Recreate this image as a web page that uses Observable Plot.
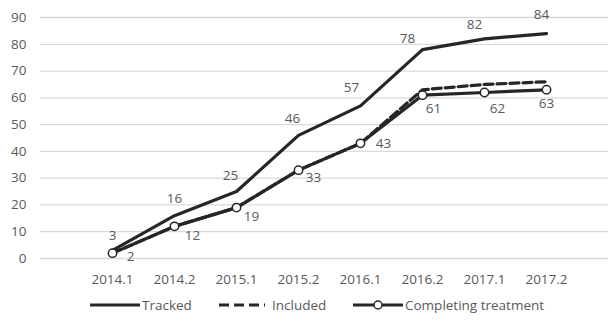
<!DOCTYPE html>
<html><head><meta charset="utf-8">
<script src="https://cdn.jsdelivr.net/npm/d3@7"></script>
<script src="https://cdn.jsdelivr.net/npm/@observablehq/plot@0.6"></script>
<style>
body{margin:0;background:#fff;font-family:"Open Sans",sans-serif;}
#wrap{width:608px;}
#legend{position:relative;width:608px;height:32px;font-size:13.5px;color:#595959;}
.item{position:absolute;top:2px;display:flex;align-items:center;height:22px;}
.item svg{display:block;margin-right:2px;}
</style></head><body><div id="wrap"><div id="chart"></div><div id="legend"></div></div>
<script>
const periods = ["2014.1","2014.2","2015.1","2015.2","2016.1","2016.2","2017.1","2017.2"];
const tracked = [3,16,25,46,57,78,82,84];
const included = [2,12,19,33,43,63,65,66];
const completing = [2,12,19,33,43,61,62,63];
const yTicks = [0,10,20,30,40,50,60,70,80,90];
const seriesNames = ["Tracked","Included","Completing treatment"];

const toRows = (vals, s) => vals.map((v,i) => ({period: periods[i], value: v, series: s, i}));
const tRows = toRows(tracked, seriesNames[0]);
const iRows = toRows(included, seriesNames[1]);
const cRows = toRows(completing, seriesNames[2]);

const ink = "#262626", grey = "#595959";
const tOff = [[0,-15],[0,-17],[-6,-16],[-6,-17],[-9,-18],[-15,-11],[-10,-14],[-5,-19]];
const cOff = [[18,4],[18,9],[15,9],[15,8],[23,0],[11,14],[13,16],[0,14]];
const labelMarks = (rows, offs) => rows.map((r, k) => Plot.text([r], {
  x: "period", y: "value", text: d => String(d.value),
  dx: offs[k][0], dy: offs[k][1], fill: grey, fontSize: 13.5
}));

const chart = Plot.plot({
  width: 608, height: 292,
  marginLeft: 40, marginRight: 0, marginTop: 17, marginBottom: 34,
  style: {fontFamily: "Open Sans, sans-serif", fontSize: "13.5px", color: grey, background: "#fff"},
  x: {type: "point", domain: periods, insetLeft: 38, insetRight: 28, label: null, tickSize: 0, tickPadding: 16},
  y: {domain: [0, 90], ticks: yTicks, label: null, tickSize: 0, tickPadding: 14},
  marks: [
    Plot.ruleY(yTicks, {stroke: "#d9d9d9", strokeWidth: 1.3}),
    Plot.axisX({tickSize: 0, tickPadding: 16, fill: grey, fontSize: 13.5}),
    Plot.axisY({ticks: yTicks, tickSize: 0, tickPadding: 14, fill: grey, fontSize: 13.5}),
    Plot.line(iRows, {x: "period", y: "value", stroke: ink, strokeWidth: 3.2, strokeDasharray: "9,4"}),
    Plot.line(cRows, {x: "period", y: "value", stroke: ink, strokeWidth: 3.2}),
    Plot.line(tRows, {x: "period", y: "value", stroke: ink, strokeWidth: 3.2}),
    Plot.dot(cRows, {x: "period", y: "value", r: 4.2, fill: "#fff", stroke: ink, strokeWidth: 1.5}),
    ...labelMarks(tRows, tOff),
    ...labelMarks(cRows, cOff)
  ]
});
document.getElementById("chart").append(chart);

// legend
const legend = document.getElementById("legend");
const items = [
  {name: seriesNames[0], left: 90, w: 50, dash: null, dot: false},
  {name: seriesNames[1], left: 219, w: 46, dash: "10,5", dot: false},
  {name: seriesNames[2], left: 353, w: 50, dash: null, dot: true}
];
items.forEach((it, k) => {
  const div = document.createElement("div");
  div.className = "item";
  div.style.left = it.left + "px";
  const ns = "http://www.w3.org/2000/svg";
  const s = document.createElementNS(ns, "svg");
  s.setAttribute("width", it.w); s.setAttribute("height", 12);
  const l = document.createElementNS(ns, "line");
  l.setAttribute("x1", 0); l.setAttribute("x2", it.w); l.setAttribute("y1", 6); l.setAttribute("y2", 6);
  l.setAttribute("stroke", ink); l.setAttribute("stroke-width", 3);
  if (it.dash) l.setAttribute("stroke-dasharray", it.dash);
  s.append(l);
  if (it.dot) {
    const c = document.createElementNS(ns, "circle");
    c.setAttribute("cx", it.w/2); c.setAttribute("cy", 6); c.setAttribute("r", 4);
    c.setAttribute("fill", "#fff"); c.setAttribute("stroke", ink); c.setAttribute("stroke-width", 1.5);
    s.append(c);
  }
  div.append(s);
  const sp = document.createElement("span");
  sp.textContent = it.name;
  if (k === 1) sp.style.marginLeft = "5px";
  div.append(sp);
  legend.append(div);
});
</script></body></html>
